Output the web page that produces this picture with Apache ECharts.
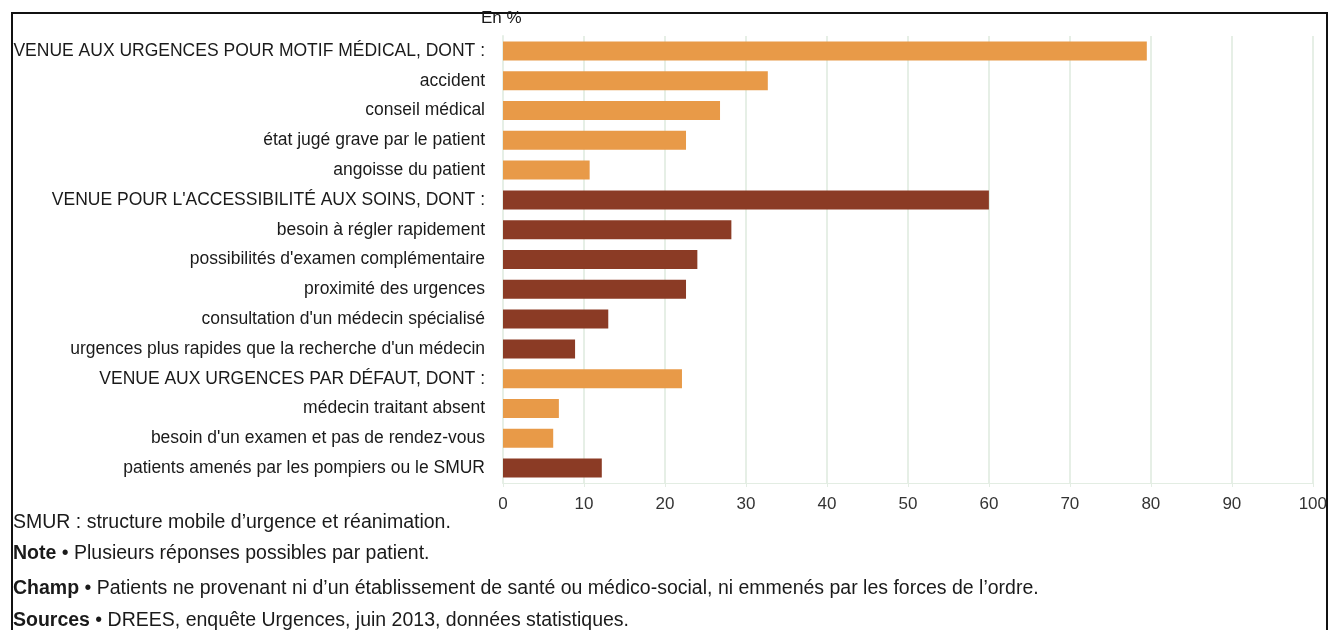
<!DOCTYPE html>
<html><head><meta charset="utf-8">
<script src="https://cdn.jsdelivr.net/npm/echarts@6/dist/echarts.min.js"></script>
<style>html,body{margin:0;padding:0;background:#fff}#c{width:1330px;height:630px}</style>
</head><body><div id="c"></div>
<script>
const categories = [
  "VENUE AUX URGENCES POUR MOTIF MÉDICAL, DONT :",
  "accident",
  "conseil médical",
  "état jugé grave par le patient",
  "angoisse du patient",
  "VENUE POUR L'ACCESSIBILITÉ AUX SOINS, DONT :",
  "besoin à régler rapidement",
  "possibilités d'examen complémentaire",
  "proximité des urgences",
  "consultation d'un médecin spécialisé",
  "urgences plus rapides que la recherche d'un médecin",
  "VENUE AUX URGENCES PAR DÉFAUT, DONT :",
  "médecin traitant absent",
  "besoin d'un examen et pas de rendez-vous",
  "patients amenés par les pompiers ou le SMUR"
];
const values = [79.5, 32.7, 26.8, 22.6, 10.7, 60.0, 28.2, 24.0, 22.6, 13.0, 8.9, 22.1, 6.9, 6.2, 12.2];
const groups = ["a","a","a","a","a","b","b","b","b","b","b","a","a","a","b"];
const xTicks = [0,10,20,30,40,50,60,70,80,90,100];
const colorsByGroup = {a: "#E89A48", b: "#8B3B25"};

const chart = echarts.init(document.getElementById('c'), null, {renderer: 'canvas'});
const font = "'Liberation Sans', Arial, sans-serif";
const rb = {b: {fontWeight: 'bold', fontSize: 19.5, fontFamily: font, fill: '#1a1a1a'}};
chart.setOption({
  animation: false,
  backgroundColor: '#fff',
  grid: {left: 503, right: 15, top: 36, bottom: 147, containLabel: false},
  xAxis: {
    type: 'value', min: xTicks[0], max: xTicks[xTicks.length-1], interval: 10,
    axisLine: {show: true, lineStyle: {color: '#e3ede3', width: 1}},
    axisTick: {show: true, length: 4, lineStyle: {color: '#e3ede3'}},
    splitLine: {show: true, lineStyle: {color: '#e6efe6', width: 2}},
    axisLabel: {color: '#333', fontSize: 17, fontFamily: font, margin: 13}
  },
  yAxis: {
    type: 'category', data: categories, inverse: true,
    axisLine: {show: true, lineStyle: {color: '#e6efe6', width: 2}},
    axisTick: {show: false},
    axisLabel: {color: '#1a1a1a', fontSize: 17.5, fontFamily: font, margin: 18}
  },
  series: [{
    type: 'bar', barWidth: 19,
    data: values.map((v, i) => ({value: v, itemStyle: {color: colorsByGroup[groups[i]]}}))
  }],
  graphic: [
    {type: 'rect', shape: {x: 12, y: 13, width: 1315, height: 625}, style: {fill: 'none', stroke: '#111', lineWidth: 2}, silent: true},
    {type: 'text', left: 481, top: 10, style: {text: 'En %', fontSize: 17, fontFamily: font, fill: '#1a1a1a'}},
    {type: 'text', left: 13, top: 513, style: {text: 'SMUR : structure mobile d’urgence et réanimation.', fontSize: 19.5, fontFamily: font, fill: '#1a1a1a'}},
    {type: 'text', left: 13, top: 544, style: {text: '{b|Note} • Plusieurs réponses possibles par patient.', fontSize: 19.5, fontFamily: font, fill: '#1a1a1a', rich: rb}},
    {type: 'text', left: 13, top: 579, style: {text: '{b|Champ} • Patients ne provenant ni d’un établissement de santé ou médico-social, ni emmenés par les forces de l’ordre.', fontSize: 19.5, fontFamily: font, fill: '#1a1a1a', rich: rb}},
    {type: 'text', left: 13, top: 611, style: {text: '{b|Sources} • DREES, enquête Urgences, juin 2013, données statistiques.', fontSize: 19.5, fontFamily: font, fill: '#1a1a1a', rich: rb}}
  ]
});
</script></body></html>
